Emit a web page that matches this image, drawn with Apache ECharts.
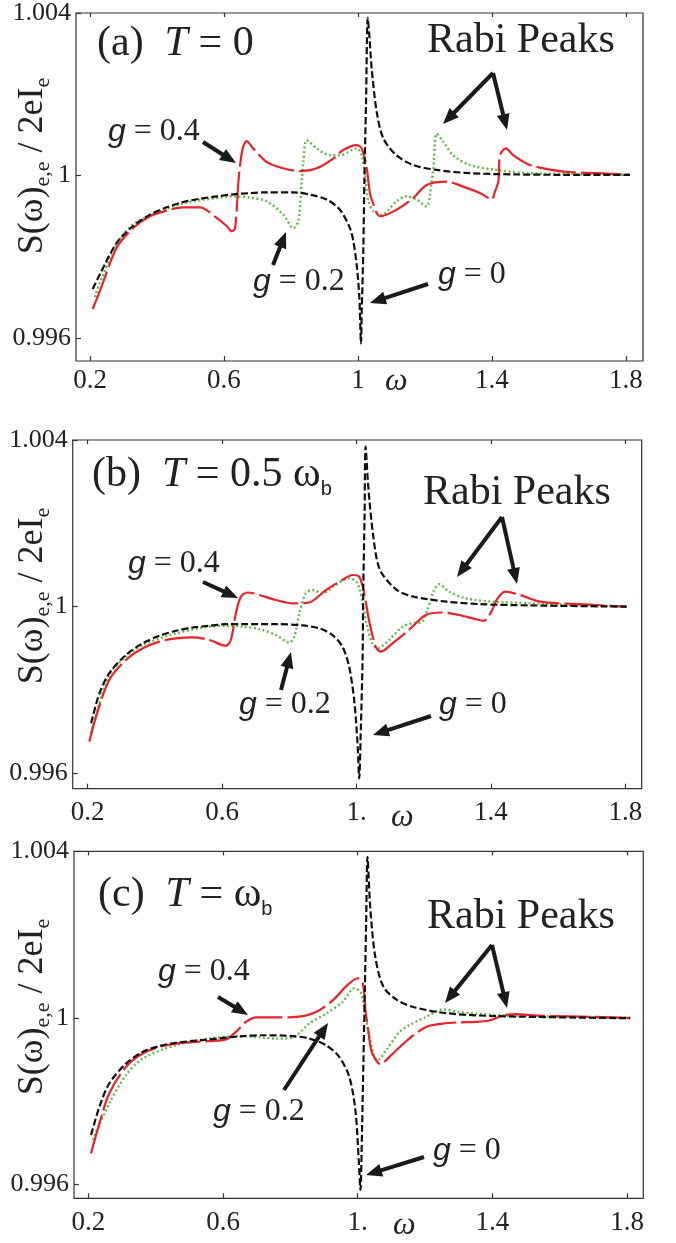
<!DOCTYPE html>
<html><head><meta charset="utf-8">
<script src="https://cdn.jsdelivr.net/npm/echarts@6/dist/echarts.min.js"></script>
<style>html,body{margin:0;padding:0;background:#fff}#c{width:676px;height:1243px}</style>
</head><body><div id="c"></div>
<script>
// ---------------- DATA ----------------
const xTicks = [0.2, 0.6, 1.0, 1.4, 1.8];
const xTickLabelsA = ['0.2', '0.6', '1', '1.4', '1.8'];
const xTickLabelsBC = ['0.2', '0.6', '1.', '1.4', '1.8'];
const yTicks = [0.996, 1.0, 1.004];
const yTickLabels = ['0.996', '1', '1.004'];

// Panel (a) T = 0
const a_g0 = [[0.208,0.99721],[0.230,0.99758],[0.280,0.99835],[0.329,0.99876],[0.379,0.99904],[0.429,0.99922],[0.478,0.99935],[0.528,0.99943],[0.578,0.99949],[0.628,0.99954],[0.678,0.99957],[0.727,0.99959],[0.807,0.99959],[0.857,0.99953],[0.907,0.99941],[0.946,0.99916],[0.976,0.99871],[0.986,0.99839],[0.996,0.99782],[1.004,0.99701],[1.009,0.99587],[1.011,0.9966],[1.016,0.99823],[1.019,0.99985],[1.024,1.0018],[1.029,1.00388],[1.034,1.00343],[1.041,1.00262],[1.056,1.00156],[1.076,1.00091],[1.115,1.0005],[1.165,1.00026],[1.235,1.00014],[1.334,1.00006],[1.464,1.00003],[1.613,1.00002],[1.812,1.00002]];
const a_g04 = [[0.208,0.99672],[0.230,0.99717],[0.280,0.99823],[0.329,0.99871],[0.379,0.999],[0.429,0.99914],[0.478,0.99922],[0.528,0.99922],[0.578,0.99896],[0.608,0.99876],[0.623,0.99863],[0.633,0.99871],[0.643,0.99985],[0.648,1.00026],[0.656,1.00067],[0.668,1.00085],[0.687,1.00067],[0.727,1.00034],[0.777,1.00018],[0.827,1.00011],[0.877,1.00018],[0.926,1.00042],[0.956,1.00063],[0.996,1.00075],[1.011,1.00067],[1.026,1.00018],[1.036,0.99955],[1.046,0.9993],[1.056,0.99908],[1.066,0.999],[1.115,0.99916],[1.165,0.99945],[1.205,0.99977],[1.265,0.99985],[1.314,0.99973],[1.364,0.99957],[1.389,0.99945],[1.399,0.99941],[1.409,0.99961],[1.419,0.99985],[1.424,1.0005],[1.441,1.00067],[1.464,1.0005],[1.513,1.00026],[1.613,1.0001],[1.713,1.00006],[1.812,1.00002]];
const a_g02 = [[0.215,0.99701],[0.230,0.99737],[0.280,0.99831],[0.329,0.9988],[0.409,0.99912],[0.478,0.99932],[0.578,0.99945],[0.628,0.99949],[0.678,0.99946],[0.727,0.99937],[0.777,0.99904],[0.807,0.99871],[0.822,0.99888],[0.832,0.99985],[0.837,1.00034],[0.847,1.00087],[0.877,1.00067],[0.916,1.0005],[0.946,1.0005],[0.996,1.00067],[1.011,1.0005],[1.021,1.00002],[1.031,0.99937],[1.046,0.99912],[1.071,0.99904],[1.115,0.99937],[1.145,0.99949],[1.175,0.99941],[1.205,0.99924],[1.215,0.99953],[1.220,0.99985],[1.225,1.00018],[1.235,1.00103],[1.255,1.00083],[1.284,1.0005],[1.334,1.00026],[1.414,1.00014],[1.513,1.00006],[1.812,1.00002]];

// Panel (b) T = 0.5 wb
const b_g0 = [[0.210,0.9972],[0.235,0.99792],[0.264,0.9984],[0.314,0.99884],[0.364,0.99912],[0.413,0.9993],[0.463,0.99942],[0.512,0.9995],[0.562,0.99954],[0.611,0.99958],[0.661,0.99958],[0.760,0.99958],[0.839,0.99955],[0.889,0.99948],[0.928,0.99932],[0.958,0.99904],[0.978,0.99856],[0.993,0.99776],[1.003,0.99672],[1.008,0.99588],[1.013,0.99712],[1.018,0.99872],[1.020,1.00032],[1.024,1.0022],[1.027,1.00384],[1.035,1.00288],[1.050,1.00168],[1.070,1.00088],[1.120,1.0004],[1.169,1.00024],[1.268,1.00012],[1.368,1.00006],[1.516,1.00003],[1.804,1.0]];
const b_g04 = [[0.205,0.99676],[0.225,0.99736],[0.264,0.99824],[0.314,0.99872],[0.364,0.999],[0.413,0.99916],[0.463,0.99924],[0.512,0.99926],[0.562,0.9992],[0.592,0.9991],[0.611,0.99906],[0.626,0.9992],[0.641,0.99984],[0.656,1.00024],[0.676,1.00034],[0.711,1.00028],[0.760,1.00016],[0.810,1.00008],[0.859,1.0001],[0.909,1.0004],[0.958,1.00064],[0.988,1.00076],[1.008,1.00072],[1.023,1.00032],[1.037,0.99968],[1.057,0.99904],[1.072,0.99892],[1.107,0.99912],[1.156,0.99944],[1.206,0.9998],[1.255,0.99986],[1.305,0.9998],[1.354,0.9997],[1.379,0.99966],[1.404,0.99992],[1.417,1.00016],[1.442,1.00036],[1.487,1.00028],[1.546,1.00012],[1.665,1.00006],[1.804,1.0]];
const b_g02 = [[0.210,0.99696],[0.264,0.99836],[0.314,0.9988],[0.364,0.99908],[0.463,0.99936],[0.562,0.99952],[0.611,0.99954],[0.661,0.99952],[0.711,0.99946],[0.760,0.99932],[0.800,0.99914],[0.815,0.99928],[0.830,0.99984],[0.849,1.00032],[0.869,1.0004],[0.899,1.00032],[0.938,1.00052],[0.978,1.00068],[1.003,1.00056],[1.018,1.00008],[1.032,0.99952],[1.047,0.99912],[1.062,0.999],[1.097,0.9992],[1.137,0.99952],[1.166,0.9996],[1.196,0.99964],[1.211,0.99992],[1.231,1.0004],[1.246,1.00054],[1.275,1.00036],[1.325,1.0002],[1.404,1.00012],[1.516,1.00008],[1.804,1.0]];

// Panel (c) T = wb
const c_g0 = [[0.208,0.99718],[0.233,0.99786],[0.262,0.99842],[0.312,0.9989],[0.361,0.99918],[0.411,0.99932],[0.460,0.9994],[0.559,0.99948],[0.658,0.99956],[0.718,0.99958],[0.807,0.99956],[0.856,0.9995],[0.906,0.99934],[0.945,0.99906],[0.975,0.99858],[0.993,0.99778],[1.003,0.99658],[1.008,0.99586],[1.013,0.99738],[1.017,0.99898],[1.021,1.00059],[1.025,1.0023],[1.029,1.00387],[1.037,1.00267],[1.052,1.00147],[1.076,1.00075],[1.116,1.00043],[1.165,1.00026],[1.264,1.00011],[1.413,1.00004],[1.809,0.99999]];
const c_g04 = [[0.208,0.99674],[0.233,0.99746],[0.262,0.99818],[0.312,0.99882],[0.361,0.99914],[0.411,0.9993],[0.460,0.99938],[0.559,0.99944],[0.609,0.99948],[0.638,0.99966],[0.668,0.9999],[0.698,1.00001],[0.757,1.00001],[0.817,1.00002],[0.876,1.00014],[0.926,1.00042],[0.965,1.00075],[1.000,1.00095],[1.015,1.00083],[1.023,1.00018],[1.030,0.99978],[1.040,0.99922],[1.054,0.99898],[1.066,0.99889],[1.104,0.99914],[1.153,0.9995],[1.203,0.99978],[1.252,0.99986],[1.302,0.99989],[1.351,0.9999],[1.393,0.99994],[1.433,1.00006],[1.472,1.00009],[1.532,1.00005],[1.710,1.00002],[1.809,0.99999]];
const c_g02 = [[0.213,0.99706],[0.262,0.99794],[0.312,0.99862],[0.361,0.99902],[0.460,0.99934],[0.559,0.9995],[0.658,0.99956],[0.757,0.9995],[0.807,0.99953],[0.856,0.99986],[0.906,1.0001],[0.955,1.00038],[0.990,1.00071],[1.010,1.00059],[1.023,1.00002],[1.035,0.99954],[1.050,0.99906],[1.059,0.99898],[1.084,0.99922],[1.124,0.99966],[1.153,0.99982],[1.203,1.00002],[1.252,1.0002],[1.302,1.00014],[1.351,1.0001],[1.450,1.00005],[1.809,1.0]];

// ---------------- LAYOUT ----------------
const panels = [
  {grid:{left:76, right:33, top:10, height:351}, x:[0.1582,1.8508], y:[0.99544,1.004], xl:xTickLabelsA, xm:6,
   data:[a_g02, a_g04, a_g0]},
  {grid:{left:72.7, right:34.3, top:440, height:348.7}, x:[0.1554,1.8487], y:[0.99563,1.004], xl:xTickLabelsBC, xm:11,
   data:[b_g02, b_g04, b_g0]},
  {grid:{left:74, right:32.7, top:851.4, height:346.9}, x:[0.1575,1.848], y:[0.99566,1.004], xl:xTickLabelsBC, xm:11,
   data:[c_g02, c_g04, c_g0]}
];

const SERIF = 'Liberation Serif';
const styles = [
  {color:'#62bb45', width:2.4, type:[2,2.5]},   // g = 0.2 dotted green
  {color:'#e8232a', width:2.2, type:[40,5]},    // g = 0.4 long-dash red
  {color:'#111111', width:2.2, type:[7,3]}      // g = 0 dashed black
];

function labelOf(ticks, labels, v){
  for (let i=0;i<ticks.length;i++) if (Math.abs(ticks[i]-v)<1e-7) return labels[i];
  return '';
}

const grid=[], xAxis=[], yAxis=[], series=[];
panels.forEach((p,i)=>{
  grid.push(Object.assign({show:true, borderColor:'#333', borderWidth:1.2, backgroundColor:'transparent'}, p.grid));
  xAxis.push({type:'value', gridIndex:i, min:p.x[0], max:p.x[1],
    axisLine:{show:false}, splitLine:{show:false},
    axisTick:{show:true, inside:true, length:5, customValues:xTicks, lineStyle:{color:'#333', width:1.2}},
    axisLabel:{customValues:xTicks, margin:p.xm, fontFamily:SERIF, fontSize:27, color:'#222',
      formatter:(v)=>labelOf(xTicks, p.xl, v)}});
  yAxis.push({type:'value', gridIndex:i, min:p.y[0], max:p.y[1],
    axisLine:{show:false}, splitLine:{show:false},
    axisTick:{show:true, inside:true, length:5, customValues:yTicks, lineStyle:{color:'#333', width:1.2}},
    axisLabel:{customValues:yTicks, margin:5, fontFamily:SERIF, fontSize:26, color:'#222',
      formatter:(v)=>labelOf(yTicks, yTickLabels, v)}});
  p.data.forEach((d,k)=>{
    series.push({type:'line', xAxisIndex:i, yAxisIndex:i, data:d, showSymbol:false, symbol:'none',
      smooth:0.3, animation:false,
      lineStyle:{color:styles[k].color, width:styles[k].width, type:styles[k].type, join:'round', cap:'butt'}});
  });
});
// top-edge ticks
panels.forEach((p,i)=>{
  xAxis.push({type:'value', gridIndex:i, position:'top', min:p.x[0], max:p.x[1],
    axisLine:{show:false}, splitLine:{show:false}, axisLabel:{show:false},
    axisTick:{show:true, inside:true, length:4, customValues:xTicks, lineStyle:{color:'#333', width:1.2}}});
});

// ---------------- GRAPHICS (annotations) ----------------
const G = [];
function txt(x, y, text, rich, extra){
  G.push(Object.assign({type:'text', x:x, y:y, z:100,
    style:{text:text, rich:rich, fill:'#222', align:'left', textAlign:'left', verticalAlign:'middle', textVerticalAlign:'middle'}}, extra||{}));
}
function arrow(x1,y1,x2,y2){
  const ang=Math.atan2(y2-y1,x2-x1), L=16, W=6.5;
  const bx=x2-L*Math.cos(ang), by=y2-L*Math.sin(ang);
  const px=-Math.sin(ang)*W, py=Math.cos(ang)*W;
  G.push({type:'line', z:100, shape:{x1:x1,y1:y1,x2:bx+Math.cos(ang)*2,y2:by+Math.sin(ang)*2}, style:{stroke:'#1a1a1a', lineWidth:4}});
  G.push({type:'polygon', z:100, shape:{points:[[x2,y2],[bx+px,by+py],[bx-px,by-py]]}, style:{fill:'#1a1a1a'}});
}
const richTitle = {
  n:{fontFamily:SERIF, fontSize:42, lineHeight:48, color:'#222'},
  it:{fontFamily:SERIF, fontSize:42, fontStyle:'italic', lineHeight:48, color:'#222'},
  s:{fontFamily:'Liberation Sans', fontSize:20, lineHeight:36, verticalAlign:'bottom', color:'#222'}
};
const richG = {
  g:{fontFamily:'Liberation Sans', fontSize:32, fontStyle:'italic', color:'#222'},
  n:{fontFamily:SERIF, fontSize:32, color:'#222'}
};
const richY = {
  n:{fontFamily:SERIF, fontSize:36, lineHeight:42, color:'#222'},
  s:{fontFamily:SERIF, fontSize:22, lineHeight:30, verticalAlign:'bottom', color:'#222'}
};
const richW = {w:{fontFamily:SERIF, fontSize:32, fontStyle:'italic', color:'#222'}};

// panel titles
txt(97, 44, '{n|(a)  }{it|T}{n| = 0}', richTitle);
txt(92, 475, '{n|(b)  }{it|T}{n| = 0.5 ω}{s|b}', richTitle);
txt(98, 895, '{n|(c)  }{it|T}{n| = ω}{s|b}', richTitle);
// Rabi peaks
txt(427, 41, '{n|Rabi Peaks}', richTitle);
txt(423, 493, '{n|Rabi Peaks}', richTitle);
txt(427, 917, '{n|Rabi Peaks}', richTitle);
// g labels
txt(108, 132, '{g|g}{n| = 0.4}', richG);
txt(253, 282, '{g|g}{n| = 0.2}', richG);
txt(438, 275, '{g|g}{n| = 0}', richG);
txt(128, 564, '{g|g}{n| = 0.4}', richG);
txt(239, 705, '{g|g}{n| = 0.2}', richG);
txt(439, 705, '{g|g}{n| = 0}', richG);
txt(158, 972, '{g|g}{n| = 0.4}', richG);
txt(213, 1112, '{g|g}{n| = 0.2}', richG);
txt(433, 1151, '{g|g}{n| = 0}', richG);
// omega axis names
txt(385, 382, '{w|ω}', richW);
txt(391, 818, '{w|ω}', richW);
txt(393, 1226, '{w|ω}', richW);
// y titles (rotated)
[166, 596, 1007].forEach(cy=>{
  G.push({type:'text', x:33, y:cy, rotation:Math.PI/2, z:100,
    style:{text:'{n|S(ω)}{s|e,e}{n| / 2eI}{s|e}', rich:richY, fill:'#222',
      align:'center', textAlign:'center', verticalAlign:'middle', textVerticalAlign:'middle'}});
});
// arrows
arrow(203,142,236,163); arrow(273,265,286,232); arrow(428,284,370,303);
arrow(493,73,443,124); arrow(493,73,507,130);
arrow(203,582,238,598); arrow(281,690,291,652); arrow(431,716,373,735);
arrow(502,517,457,577); arrow(502,517,517,584);
arrow(218,997,248,1015); arrow(284,1090,328,1023); arrow(424,1157,366,1175);
arrow(492,945,445,1003); arrow(492,945,507,1008);

const chart = echarts.init(document.getElementById('c'), null, {renderer:'canvas'});
chart.setOption({animation:false, backgroundColor:'#fff', grid, xAxis, yAxis, series, graphic:{elements:G}});
</script></body></html>
